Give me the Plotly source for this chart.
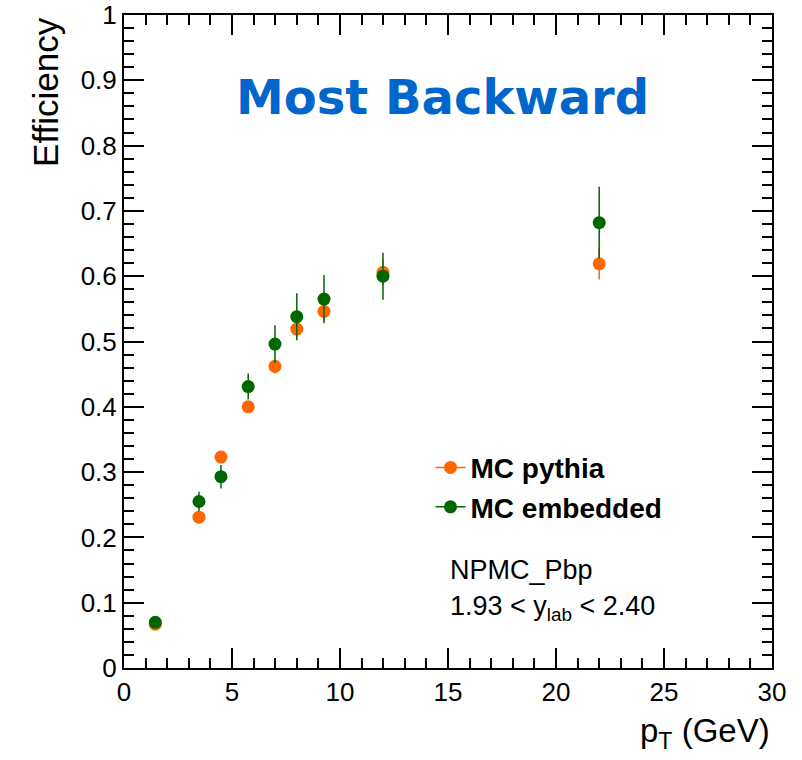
import plotly.graph_objects as go

# Efficiency vs pT, most backward rapidity bin
pt = [1.45, 3.47, 4.49, 5.75, 6.99, 8.0, 9.26, 11.99, 22.0]
eff_pythia = [0.067, 0.231, 0.323, 0.400, 0.462, 0.519, 0.546, 0.606, 0.619]
err_pythia = [0.003, 0.006, 0.008, 0.008, 0.011, 0.013, 0.015, 0.020, 0.024]
eff_embedded = [0.070, 0.255, 0.293, 0.431, 0.496, 0.538, 0.565, 0.600, 0.682]
err_embedded = [0.004, 0.015, 0.018, 0.020, 0.029, 0.036, 0.037, 0.036, 0.055]

names = ["MC pythia", "MC embedded"]
colors = ["#FF6600", "#006600"]
yvals = [eff_pythia, eff_embedded]
yerrs = [err_pythia, err_embedded]

font = "Liberation Sans, Arial, Helvetica, sans-serif"

fig = go.Figure()
for name, color, yv, ye in zip(names, colors, yvals, yerrs):
    fig.add_trace(
        go.Scatter(
            x=pt,
            y=yv,
            mode="markers",
            marker=dict(size=13, color=color),
            error_y=dict(type="data", array=ye, color=color, thickness=1.5, width=0),
            showlegend=False,
            cliponaxis=False,
        )
    )

# legend entries drawn as line + marker like the original
for name, color in zip(names, colors):
    fig.add_trace(
        go.Scatter(
            x=[None],
            y=[None],
            name=name,
            mode="lines+markers",
            line=dict(color=color, width=1.5),
            marker=dict(size=13, color=color),
        )
    )

axis_common = dict(
    showline=True,
    linecolor="black",
    linewidth=2,
    mirror="ticks",
    ticks="inside",
    ticklen=20,
    tickwidth=1.5,
    tickcolor="black",
    showgrid=False,
    zeroline=False,
    automargin=False,
    ticklabeloverflow="allow",
    tickfont=dict(family=font, size=26, color="black"),
)

fig.update_xaxes(
    range=[0, 30],
    dtick=5,
    minor=dict(ticks="inside", ticklen=10, dtick=1, tickcolor="black", tickwidth=1.5),
    **axis_common,
)
fig.update_yaxes(
    range=[0, 1],
    dtick=0.1,
    tickformat="~g",
    minor=dict(ticks="inside", ticklen=10, dtick=0.02, tickcolor="black", tickwidth=1.5),
    **axis_common,
)

annotations = [
    dict(text="<b>Most Backward</b>", x=0.492, y=0.874, xref="paper", yref="paper",
         xanchor="center", yanchor="middle", showarrow=False,
         font=dict(family="DejaVu Sans", size=48, color="#0066CC")),
    dict(text="Efficiency", x=-0.122, y=1.0, xref="paper", yref="paper",
         xanchor="center", yanchor="top", textangle=-90, showarrow=False,
         font=dict(family=font, size=35, color="black")),
    dict(text="p<sub>T</sub> (GeV)", x=1.0, y=-0.0995, xref="paper", yref="paper",
         xanchor="right", yanchor="middle", showarrow=False,
         font=dict(family=font, size=33, color="black")),
    dict(text="NPMC_Pbp", x=0.5, y=0.150, xref="paper", yref="paper",
         xanchor="left", yanchor="middle", showarrow=False,
         font=dict(family=font, size=27, color="black")),
    dict(text="1.93 &lt; y<sub>lab</sub> &lt; 2.40", x=0.5, y=0.092, xref="paper", yref="paper",
         xanchor="left", yanchor="middle", showarrow=False,
         font=dict(family=font, size=27, color="black")),
]

fig.update_layout(
    width=802,
    height=760,
    margin=dict(l=124, r=30, t=15, b=92, autoexpand=False),
    paper_bgcolor="white",
    plot_bgcolor="white",
    annotations=annotations,
    legend=dict(
        x=0.473, y=0.345, xanchor="left", yanchor="top",
        bgcolor="rgba(0,0,0,0)",
        font=dict(family=font, size=28, color="black", weight="bold"),
        tracegroupgap=0,
        itemwidth=30,
    ),
)

# drop the default 8 px page margin so the figure fills the window
fig.write_html(
    "out.html",
    config={"displayModeBar": False},
    post_script="document.body.style.margin = '0';",
)
